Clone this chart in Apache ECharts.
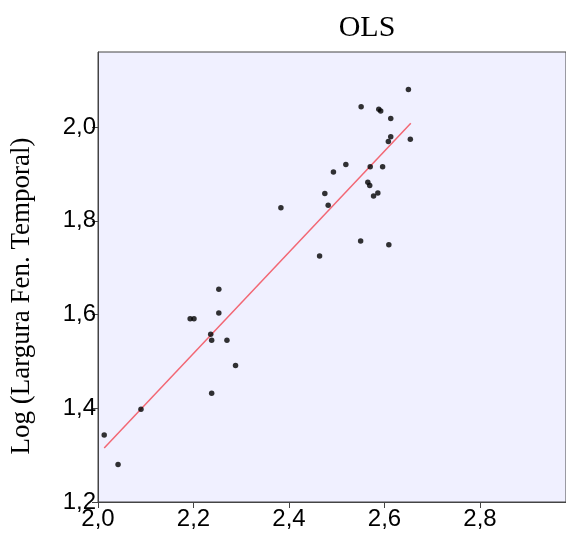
<!DOCTYPE html>
<html>
<head>
<meta charset="utf-8">
<script src="https://cdn.jsdelivr.net/npm/echarts@6/dist/echarts.min.js"></script>
<style>
  html, body { margin: 0; padding: 0; background: #fff; }
  #chart { width: 566px; height: 538px; }
</style>
</head>
<body>
<div id="chart"></div>
<script>
// scatter values
const logX = [2.013, 2.042, 2.090, 2.193, 2.201, 2.253, 2.253, 2.236, 2.238, 2.270,
  2.288, 2.238, 2.383, 2.464, 2.475, 2.482, 2.493, 2.519, 2.550, 2.551,
  2.565, 2.569, 2.570, 2.577, 2.586, 2.588, 2.592, 2.596, 2.609, 2.608,
  2.613, 2.613, 2.650, 2.654];
const logY = [1.343, 1.280, 1.398, 1.591, 1.591, 1.654, 1.603, 1.558, 1.545, 1.545,
  1.491, 1.432, 1.828, 1.725, 1.858, 1.833, 1.904, 1.920, 1.757, 2.043,
  1.882, 1.875, 1.915, 1.853, 1.859, 2.038, 2.034, 1.915, 1.749, 1.969,
  1.979, 2.018, 2.080, 1.974];

// OLS fit line ends
const fitX = [2.013, 2.655];
const fitY = [1.315, 2.008];

const xTicks = [2.0, 2.2, 2.4, 2.6, 2.8];
const yTicks = [1.2, 1.4, 1.6, 1.8, 2.0];

const chart = echarts.init(document.getElementById("chart"));

const fmt = (v) => v.toFixed(1).replace(".", ",");
const axisColor = "#444";

chart.setOption({
  animation: false,
  title: {
    text: "OLS",
    left: 362,
    top: 8,
    textAlign: "center",
    textStyle: { fontFamily: "Liberation Serif", fontSize: 30, fontWeight: "normal", color: "#000" },
  },
  graphic: [
    {
      type: "text",
      x: 22,
      y: 296,
      rotation: Math.PI / 2,
      style: {
        text: "Log (Largura Fen. Temporal)",
        font: "27px 'Liberation Serif'",
        fill: "#000",
        align: "center",
        verticalAlign: "middle",
      },
    },
  ],
  grid: {
    left: 98,
    top: 52,
    right: -1,
    bottom: 36,
    show: true,
    backgroundColor: "#F0F0FF",
    borderColor: axisColor,
    borderWidth: 1,
  },
  xAxis: {
    type: "value",
    min: 2.0,
    max: 2.98,
    interval: 0.2,
    splitLine: { show: false },
    axisLine: { lineStyle: { color: axisColor } },
    axisTick: { length: 6, customValues: xTicks, lineStyle: { color: axisColor } },
    axisLabel: {
      margin: 5,
      color: "#000",
      fontFamily: "Liberation Sans",
      fontSize: 24,
      customValues: xTicks,
      formatter: fmt,
    },
  },
  yAxis: {
    type: "value",
    min: 1.2,
    max: 2.16,
    interval: 0.2,
    splitLine: { show: false },
    axisLine: { lineStyle: { color: axisColor } },
    axisTick: { length: 6, customValues: yTicks, lineStyle: { color: axisColor } },
    axisLabel: {
      margin: 2,
      color: "#000",
      fontFamily: "Liberation Sans",
      fontSize: 24,
      customValues: yTicks,
      formatter: fmt,
    },
  },
  series: [
    {
      type: "line",
      data: fitX.map((x, i) => [x, fitY[i]]),
      showSymbol: false,
      lineStyle: { color: "#F26774", width: 1.5 },
      z: 1,
    },
    {
      type: "scatter",
      data: logX.map((x, i) => [x, logY[i]]),
      symbolSize: 5.5,
      itemStyle: { color: "#000" },
      z: 2,
    },
  ],
});
</script>
</body>
</html>
